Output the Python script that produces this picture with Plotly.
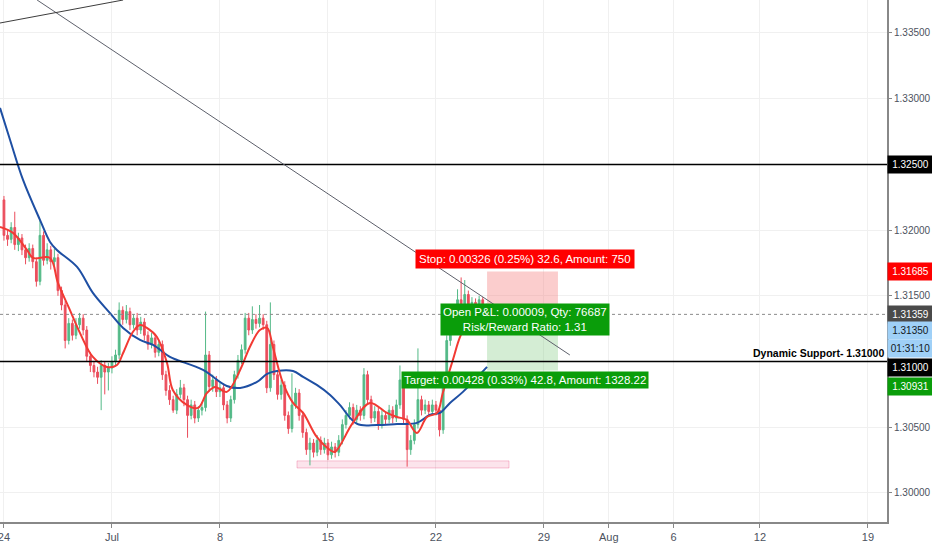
"""
GBP-style 4H candlestick chart with TradingView-like drawings, rebuilt in Plotly.
Bars are indexed (6 bars per trading day, weekends removed).
"""

import plotly.graph_objects as go

# ---- candles (bar 0 = Jun 24) ----
opens = [1.3223, 1.3196, 1.3193, 1.3202, 1.3189, 1.3194, 1.3185, 1.3179, 1.3186, 1.3176,
         1.3161, 1.3196, 1.3177, 1.3185, 1.3176, 1.3179, 1.3154, 1.3143, 1.3116, 1.3129,
         1.3120, 1.3128, 1.3133, 1.3124, 1.3104, 1.3097, 1.3092, 1.3088, 1.3097, 1.3092,
         1.3095, 1.3100, 1.3105, 1.3139, 1.3132, 1.3138, 1.3128, 1.3133, 1.3124, 1.3130,
         1.3120, 1.3113, 1.3118, 1.3107, 1.3113, 1.3090, 1.3078, 1.3071, 1.3063, 1.3075,
         1.3080, 1.3071, 1.3059, 1.3067, 1.3057, 1.3063, 1.3065, 1.3105, 1.3081, 1.3086,
         1.3077, 1.3080, 1.3067, 1.3057, 1.3071, 1.3090, 1.3101, 1.3109, 1.3133, 1.3124,
         1.3132, 1.3129, 1.3133, 1.3128, 1.3080, 1.3113, 1.3090, 1.3075, 1.3082, 1.3059,
         1.3049, 1.3067, 1.3076, 1.3059, 1.3046, 1.3033, 1.3038, 1.3031, 1.3040, 1.3033,
         1.3038, 1.3029, 1.3035, 1.3031, 1.3040, 1.3052, 1.3059, 1.3065, 1.3056, 1.3063,
         1.3059, 1.3090, 1.3071, 1.3057, 1.3062, 1.3052, 1.3059, 1.3056, 1.3063, 1.3057,
         1.3067, 1.3086, 1.3056, 1.3033, 1.3040, 1.3052, 1.3071, 1.3063, 1.3067, 1.3062,
         1.3067, 1.3063, 1.3048, 1.3086, 1.3116, 1.3124, 1.3139, 1.3147, 1.3138, 1.3151,
         1.3135, 1.3145, 1.3138, 1.3147, 1.3139]
closes = [1.3196, 1.3193, 1.3202, 1.3189, 1.3194, 1.3185, 1.3179, 1.3186, 1.3176, 1.3161,
          1.3196, 1.3177, 1.3185, 1.3176, 1.3179, 1.3154, 1.3143, 1.3116, 1.3129, 1.3120,
          1.3128, 1.3133, 1.3124, 1.3104, 1.3097, 1.3092, 1.3088, 1.3097, 1.3092, 1.3095,
          1.3100, 1.3105, 1.3139, 1.3132, 1.3138, 1.3128, 1.3133, 1.3124, 1.3130, 1.3120,
          1.3113, 1.3118, 1.3107, 1.3113, 1.3090, 1.3078, 1.3071, 1.3063, 1.3075, 1.3080,
          1.3071, 1.3059, 1.3067, 1.3057, 1.3063, 1.3065, 1.3105, 1.3081, 1.3086, 1.3077,
          1.3080, 1.3067, 1.3057, 1.3071, 1.3090, 1.3101, 1.3109, 1.3133, 1.3124, 1.3132,
          1.3129, 1.3133, 1.3128, 1.3080, 1.3113, 1.3090, 1.3075, 1.3082, 1.3059, 1.3049,
          1.3067, 1.3076, 1.3059, 1.3046, 1.3033, 1.3038, 1.3031, 1.3040, 1.3033, 1.3038,
          1.3029, 1.3035, 1.3031, 1.3040, 1.3052, 1.3059, 1.3065, 1.3056, 1.3063, 1.3059,
          1.3090, 1.3071, 1.3057, 1.3062, 1.3052, 1.3059, 1.3056, 1.3063, 1.3057, 1.3067,
          1.3086, 1.3056, 1.3033, 1.3040, 1.3052, 1.3071, 1.3063, 1.3067, 1.3062, 1.3067,
          1.3063, 1.3048, 1.3086, 1.3116, 1.3124, 1.3139, 1.3147, 1.3138, 1.3151, 1.3135,
          1.3145, 1.3138, 1.3147, 1.3139, 1.3135]
highs = [1.3226, 1.3200, 1.3206, 1.3214, 1.3198, 1.3197, 1.3189, 1.3190, 1.3189, 1.3179,
         1.3208, 1.3199, 1.3190, 1.3188, 1.3186, 1.3182, 1.3157, 1.3146, 1.3133, 1.3132,
         1.3133, 1.3137, 1.3136, 1.3127, 1.3107, 1.3100, 1.3096, 1.3101, 1.3100, 1.3099,
         1.3104, 1.3109, 1.3145, 1.3142, 1.3143, 1.3141, 1.3136, 1.3137, 1.3134, 1.3133,
         1.3123, 1.3122, 1.3121, 1.3116, 1.3116, 1.3093, 1.3082, 1.3074, 1.3079, 1.3086,
         1.3083, 1.3074, 1.3071, 1.3070, 1.3066, 1.3069, 1.3138, 1.3108, 1.3090, 1.3089,
         1.3084, 1.3083, 1.3070, 1.3074, 1.3093, 1.3105, 1.3113, 1.3137, 1.3137, 1.3142,
         1.3136, 1.3143, 1.3136, 1.3131, 1.3145, 1.3116, 1.3093, 1.3086, 1.3085, 1.3062,
         1.3091, 1.3080, 1.3079, 1.3062, 1.3049, 1.3042, 1.3041, 1.3044, 1.3043, 1.3042,
         1.3041, 1.3039, 1.3038, 1.3044, 1.3056, 1.3063, 1.3069, 1.3068, 1.3067, 1.3066,
         1.3095, 1.3093, 1.3074, 1.3066, 1.3065, 1.3063, 1.3062, 1.3067, 1.3066, 1.3071,
         1.3097, 1.3089, 1.3059, 1.3044, 1.3056, 1.3110, 1.3074, 1.3071, 1.3070, 1.3071,
         1.3070, 1.3066, 1.3090, 1.3120, 1.3128, 1.3143, 1.3155, 1.3164, 1.3162, 1.3154,
         1.3149, 1.3148, 1.3150, 1.3149, 1.3144]
lows = [1.3192, 1.3188, 1.3190, 1.3185, 1.3184, 1.3181, 1.3174, 1.3176, 1.3171, 1.3157,
        1.3158, 1.3173, 1.3174, 1.3170, 1.3172, 1.3150, 1.3139, 1.3110, 1.3113, 1.3116,
        1.3117, 1.3125, 1.3120, 1.3100, 1.3092, 1.3088, 1.3083, 1.3063, 1.3075, 1.3078,
        1.3091, 1.3096, 1.3102, 1.3128, 1.3129, 1.3124, 1.3125, 1.3120, 1.3121, 1.3116,
        1.3109, 1.3110, 1.3103, 1.3104, 1.3086, 1.3074, 1.3067, 1.3061, 1.3060, 1.3072,
        1.3066, 1.3042, 1.3056, 1.3053, 1.3054, 1.3059, 1.3062, 1.3077, 1.3077, 1.3073,
        1.3073, 1.3063, 1.3053, 1.3054, 1.3068, 1.3087, 1.3098, 1.3106, 1.3120, 1.3121,
        1.3125, 1.3126, 1.3124, 1.3076, 1.3077, 1.3086, 1.3071, 1.3071, 1.3055, 1.3045,
        1.3046, 1.3064, 1.3055, 1.3042, 1.3029, 1.3021, 1.3027, 1.3028, 1.3029, 1.3030,
        1.3025, 1.3026, 1.3027, 1.3028, 1.3037, 1.3049, 1.3056, 1.3052, 1.3053, 1.3055,
        1.3056, 1.3067, 1.3053, 1.3054, 1.3048, 1.3049, 1.3052, 1.3053, 1.3053, 1.3054,
        1.3064, 1.3052, 1.3020, 1.3029, 1.3037, 1.3049, 1.3059, 1.3060, 1.3058, 1.3059,
        1.3059, 1.3043, 1.3045, 1.3083, 1.3112, 1.3121, 1.3136, 1.3134, 1.3135, 1.3131,
        1.3132, 1.3134, 1.3135, 1.3136, 1.3131]
bar_idx = list(range(len(closes)))

# ---- moving averages at sample bars ----
fast_ma_idx = [-1.1, 2.5, 6.4, 8.1, 12.8, 15.0, 18.3, 21.1, 24.7, 28.6, 31.4, 33.1,
               35.8, 37.8, 39.7, 42.5, 45.3, 46.9, 50.8, 53.9, 56.4, 58.6, 61.9,
               65.6, 68.3, 71.1, 73.1, 74.7, 77.5, 80.3, 83.1, 86.9, 90.6, 91.9,
               96.9, 101.7, 106.4, 109.2, 111.9, 114.7, 117.5, 120.3, 121.9, 124.7,
               126.7, 129.4, 134.2]
fast_ma = [1.32024, 1.31979, 1.31849, 1.31788, 1.31788, 1.31598, 1.31393, 1.31218,
           1.31035, 1.30959, 1.30974, 1.31065, 1.31225, 1.31278, 1.31256, 1.31187,
           1.30989, 1.30784, 1.30670, 1.30647, 1.30761, 1.30807, 1.30769, 1.30936,
           1.31111, 1.31240, 1.31256, 1.31111, 1.30837, 1.30685, 1.30609, 1.30426,
           1.30327, 1.30312, 1.30533, 1.30685, 1.30609, 1.30578, 1.30556, 1.30457,
           1.30578, 1.30609, 1.30761, 1.31012, 1.31187, 1.31332, 1.31431]
slow_ma_idx = [-1.1, 1.7, 5.3, 10.0, 12.8, 14.7, 20.3, 24.7, 29.4, 33.1, 37.8, 41.4,
               46.1, 48.1, 55.3, 61.9, 65.6, 70.3, 73.1, 75.8, 80.3, 83.1, 86.9,
               90.6, 93.3, 98.1, 103.6, 109.2, 114.7, 118.3, 121.1, 123.9, 127.5, 134.2]
slow_ma = [1.32930, 1.32686, 1.32382, 1.32078, 1.31910, 1.31849, 1.31720, 1.31522,
           1.31370, 1.31256, 1.31164, 1.31126, 1.31035, 1.31012, 1.30936, 1.30814,
           1.30799, 1.30845, 1.30906, 1.30928, 1.30928, 1.30883, 1.30822, 1.30746,
           1.30670, 1.30525, 1.30517, 1.30525, 1.30533, 1.30594, 1.30609, 1.30685,
           1.30769, 1.30959]

# ---- axes ----
tick_idx = [0, 30, 60, 90, 120, 150, 168, 186, 210, 240]
tick_text = ['24', 'Jul', '8', '15', '22', '29', 'Aug', '6', '12', '19']
price_ticks = [1.300, 1.305, 1.315, 1.320, 1.330, 1.335]
x_range = [-1.1, 245.3]
y_range = [1.29779, 1.33751]

# ---- drawings ----
resistance = 1.325
support = 1.310
last_price = 1.31359
stop_price = 1.31685
entry_price = 1.31359
target_price = 1.30931
position_bars = [134.2, 153.9]
label_bar = 144.7
trend_line = [(9.2, 1.33751), (157.2, 1.31050)]
upper_line = [(-1.1, 1.33576), (33.1, 1.33751)]
support_zone = [(81.4, 1.30190), (140.3, 1.30244)]

# right-axis price badges: (y position, text, background, text colour)
badges = [
    (1.32500, '1.32500', '#000000', 'white'),
    (1.31685, '1.31685', '#ff0000', 'white'),
    (1.31359, '1.31359', '#4a4a4a', 'white'),
    (1.31240, '1.31350', '#9fd0f7', '#131722'),
    (1.31096, '01:31:10', '#9fd0f7', '#131722'),
    (1.30951, '1.31000', '#000000', 'white'),
    (1.30807, '1.30931', '#0a9d0a', 'white'),
]

FONT = 'Liberation Sans, Arial, sans-serif'
GREEN = '#53b987'
RED = '#eb4d5c'

fig = go.Figure()

fig.add_trace(go.Candlestick(
    x=bar_idx, open=opens, high=highs, low=lows, close=closes,
    increasing=dict(line=dict(color=GREEN, width=1), fillcolor=GREEN),
    decreasing=dict(line=dict(color=RED, width=1), fillcolor=RED),
    whiskerwidth=0, hoverinfo='skip', showlegend=False,
))
fig.add_trace(go.Scatter(x=slow_ma_idx, y=slow_ma, mode='lines',
                         line=dict(color='#1e4fa3', width=2, shape='spline'),
                         hoverinfo='skip', showlegend=False))
fig.add_trace(go.Scatter(x=fast_ma_idx, y=fast_ma, mode='lines',
                         line=dict(color='#f23a33', width=2, shape='spline'),
                         hoverinfo='skip', showlegend=False))

shapes = [
    # position tool boxes
    dict(type='rect', x0=position_bars[0], x1=position_bars[1], y0=entry_price, y1=stop_price,
         fillcolor='rgba(245,124,124,0.38)', line=dict(width=0), layer='between'),
    dict(type='rect', x0=position_bars[0], x1=position_bars[1], y0=target_price, y1=entry_price,
         fillcolor='rgba(120,200,120,0.32)', line=dict(width=0), layer='between'),
    # support zone
    dict(type='rect', x0=support_zone[0][0], x1=support_zone[1][0],
         y0=support_zone[0][1], y1=support_zone[1][1],
         fillcolor='rgba(233,30,99,0.12)', line=dict(color='rgba(233,30,99,0.25)', width=1),
         layer='between'),
    # horizontal levels
    dict(type='line', xref='paper', x0=0, x1=1, y0=resistance, y1=resistance,
         line=dict(color='#000000', width=1.5)),
    dict(type='line', xref='paper', x0=0, x1=1, y0=support, y1=support,
         line=dict(color='#000000', width=1.5)),
    dict(type='line', xref='paper', x0=0, x1=1, y0=last_price, y1=last_price,
         line=dict(color='#8a8a8a', width=1, dash='dot')),
    # trend lines
    dict(type='line', x0=trend_line[0][0], y0=trend_line[0][1],
         x1=trend_line[1][0], y1=trend_line[1][1], line=dict(color='#5d606b', width=1)),
    dict(type='line', x0=upper_line[0][0], y0=upper_line[0][1],
         x1=upper_line[1][0], y1=upper_line[1][1], line=dict(color='#3c3c3c', width=1)),
]

annotations = [
    dict(x=245, y=support, xanchor='right', yanchor='bottom', yshift=1, showarrow=False,
         text='<b>Dynamic Support- 1.31000</b>', font=dict(family=FONT, size=10.5, color='#000')),
    dict(x=label_bar, y=1.31780, showarrow=False, text='Stop: 0.00326 (0.25%) 32.6, Amount: 750',
         bgcolor='#ff0000', borderpad=3, font=dict(family=FONT, size=11.5, color='white')),
    dict(x=label_bar, y=1.31317, showarrow=False,
         text='Open P&L: 0.00009, Qty: 76687<br>Risk/Reward Ratio: 1.31',
         bgcolor='#0a9d0a', borderpad=2, font=dict(family=FONT, size=11.5, color='white')),
    dict(x=label_bar, y=1.30856, showarrow=False,
         text='Target: 0.00428 (0.33%) 42.8, Amount: 1328.22',
         bgcolor='#0a9d0a', borderpad=2, font=dict(family=FONT, size=11.5, color='white')),
]
for ypos, txt, bg, fg in badges:
    annotations.append(dict(xref='paper', x=1, xanchor='left', y=ypos, showarrow=False,
                            text=txt, bgcolor=bg, width=41, height=13, borderpad=2,
                            align='center', font=dict(family=FONT, size=10, color=fg)))

fig.update_layout(
    width=932, height=550,
    margin=dict(l=0, r=45, t=0, b=28, autoexpand=False),
    paper_bgcolor='white', plot_bgcolor='white',
    shapes=shapes, annotations=annotations,
    showlegend=False, hovermode=False,
    font=dict(family=FONT, size=11, color='#4c525e'),
    xaxis=dict(range=x_range, tickvals=tick_idx, ticktext=tick_text,
               showgrid=True, gridcolor='#f0f0f0', zeroline=False,
               ticks='outside', ticklen=4, tickcolor='#888', showline=True,
               linecolor='#888', linewidth=2, rangeslider=dict(visible=False),
               ticklabeloverflow='allow',
               tickfont=dict(size=11, color='#4c525e')),
    yaxis=dict(range=y_range, side='right', tickvals=price_ticks, tickformat='.5f',
               showgrid=True, gridcolor='#f0f0f0', zeroline=False,
               ticks='outside', ticklen=3, tickcolor='#888', showline=True,
               linecolor='#888', linewidth=2, tickfont=dict(size=10, color='#4c525e')),
)

# page body has a default 8px margin; drop it so the figure sits at the window's corner
fig.write_html("out.html", config={'displayModeBar': False},
               post_script="document.body.style.margin='0';")
